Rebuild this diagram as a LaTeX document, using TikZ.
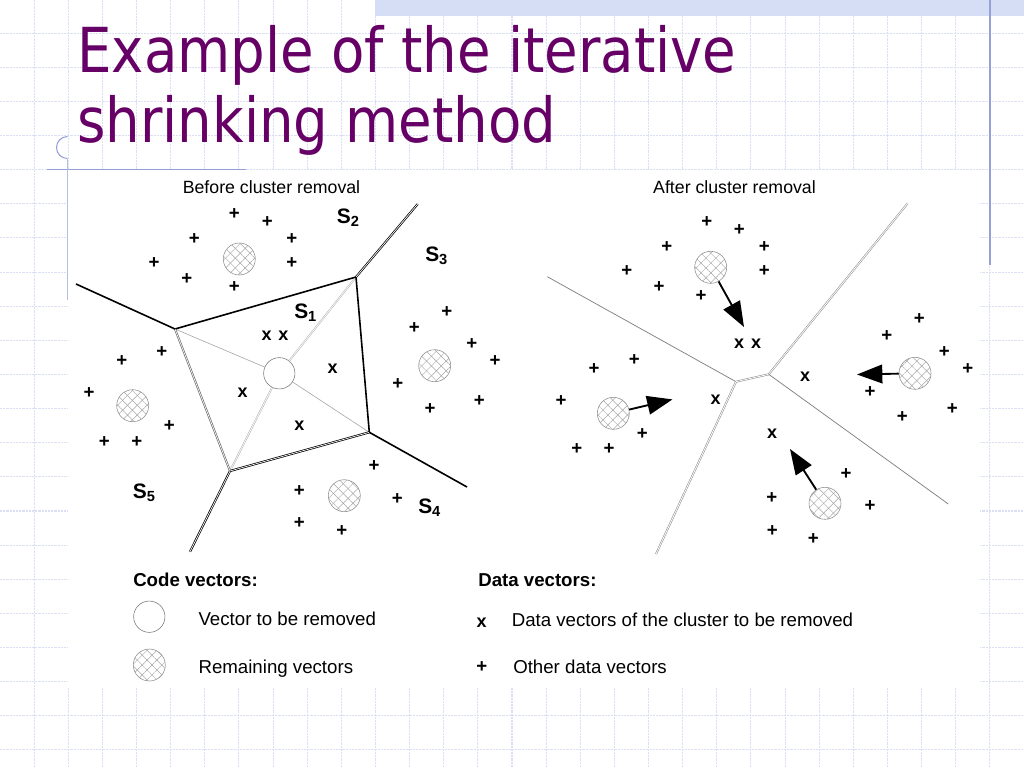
\documentclass[tikz,border=0pt]{standalone}
\usepackage{fontspec}
\setmainfont{Liberation Sans}
\newfontfamily\titlefont[FakeStretch=0.88]{DejaVu Sans}
\usetikzlibrary{patterns.meta,arrows.meta}
\definecolor{titlepurple}{RGB}{102,0,102}
\definecolor{gridblue}{RGB}{218,223,243}
\definecolor{rulerblue}{RGB}{150,160,215}
\definecolor{stripblue}{RGB}{214,222,246}
\newcommand\Slab[1]{S\raisebox{-2.2pt}{\fontsize{11}{11}\selectfont #1}}
\begin{document}
\begin{tikzpicture}[x=0.75pt,y=-0.75pt,
  gridline/.style={draw=gridblue, line width=0.8pt, dash pattern=on 1.6pt off 0.8pt},
  titlestyle/.style={anchor=base west, inner sep=0pt, text=titlepurple, font=\titlefont\fontsize{46.5}{50}\selectfont},
  captext/.style={anchor=base, inner sep=0pt, font=\fontsize{13.3}{15}\selectfont},
  legtext/.style={anchor=base west, inner sep=0pt, font=\fontsize{14}{16}\selectfont},
  leghead/.style={anchor=base west, inner sep=0pt, font=\bfseries\fontsize{14}{16}\selectfont},
  slabel/.style={anchor=base west, inner sep=0pt, font=\bfseries\fontsize{15.7}{18}\selectfont},
  plusmark/.style={inner sep=0pt, font=\bfseries\fontsize{14}{15}\selectfont},
  xmark/.style={inner sep=0pt, font=\bfseries\fontsize{13.5}{14}\selectfont},
  emptyc/.style={circle, minimum size=23.5pt, inner sep=0pt, draw=black!55, line width=0.4pt, fill=white},
  hatchc/.style={circle, minimum size=24pt, inner sep=0pt, draw=black!45, line width=0.4pt,
    pattern={Lines[angle=45,distance=5.2pt,line width=0.35pt]}, pattern color=black!35,
    postaction={pattern={Lines[angle=-45,distance=5.2pt,line width=0.35pt]}, pattern color=black!35}},
  heavy/.style={draw=black, line width=1.2pt},
  dblblack/.style={draw=black, double=white, line width=0.55pt, double distance=0.5pt},
  dblgray/.style={draw=black!60, double=white, line width=0.5pt, double distance=0.5pt},
  innerthin/.style={draw=black!35, line width=0.45pt},
  innerdbl/.style={draw=black!30, double=white, line width=0.4pt, double distance=0.5pt},
  thingray/.style={draw=black!50, line width=0.55pt},
  lightdbl/.style={draw=black!45, double=white, line width=0.4pt, double distance=0.6pt},
  bigarrow/.style={draw=black, line width=1.4pt, -{Triangle[length=19pt,width=14pt]}}
]
\useasboundingbox (0,0) rectangle (1024,768);
\fill[white] (0,0) rectangle (1024,768);
% background grid
\foreach \i in {1,...,29} \draw[gridline] ({\i*34.133},0) -- ({\i*34.133},768);
\foreach \i in {1,...,22} \draw[gridline] (0,{\i*34.133-1}) -- (1024,{\i*34.133-1});
% top strip and rulers
\fill[stripblue] (375,0) rectangle (1024,16);
\draw[rulerblue, line width=1.1pt] (990,0) -- (990,265);
\draw[rulerblue, line width=0.8pt] (47,169.5) -- (246,169.5);
\draw[rulerblue, line width=0.8pt] (67.5,158.5) arc[start angle=90, end angle=270, radius=11];
\draw[rulerblue!70, line width=0.8pt] (67.5,158.5) -- (67.5,300);
% white panel
\fill[white] (68,170) rectangle (980,688);
% title
\node[titlestyle] (t1) at (77,72) {Example of the iterative};
\node[titlestyle] (t2) at (77,142) {shrinking method};
% captions
\node[captext] (capL) at (271.5,193.3) {Before cluster removal};
\node[captext] (capR) at (734.5,193.3) {After cluster removal};

% ---------------- left diagram ----------------
\coordinate (ul) at (175,329);
\coordinate (ur) at (356,277);
\coordinate (lr) at (369.3,432.3);
\coordinate (bl) at (230,471);
\coordinate (oul) at (76,284);
\coordinate (our) at (417.7,204);
\coordinate (olr) at (467,487);
\coordinate (obl) at (190,551.7);
\node[emptyc] (rem) at (279.3,373.3) {};
\draw[innerthin] (rem) -- (ul);
\draw[innerdbl] (rem) -- (ur);
\draw[innerthin] (rem) -- (lr);
\draw[innerdbl] (rem) -- (bl);
\draw[heavy] (ul) -- (ur);
\draw[heavy] (ur) -- (lr);
\draw[dblblack] (lr) -- (bl);
\draw[dblgray] (bl) -- (ul);
\draw[heavy] (ul) -- (oul);
\draw[dblblack] (ur) -- (our);
\draw[heavy] (lr) -- (olr);
\draw[dblblack] (bl) -- (obl);
\node[hatchc] (hL2) at (239.3,259) {};
\node[hatchc] (hL3) at (434.7,365.7) {};
\node[hatchc] (hL5) at (132.7,405.7) {};
\node[hatchc] (hL4) at (344.3,495.7) {};
\foreach \px/\py [count=\i] in {234.3/214.3, 267.3/222, 194.3/239.3, 291.7/239.3, 154/263.3, 291.7/263.3, 186.7/279, 234.3/286.7, 446.7/311.7, 414.3/328.3, 471.7/344, 495/361, 397.7/384, 479.3/401, 430/408.7, 161.7/351.7, 121.7/361, 89/393.3, 169.3/425.7, 104.3/441.7, 136.7/441.7, 374/466, 299.3/491, 397.3/499, 299.3/523.3, 341.7/531}
  \node[plusmark] (pl\i) at (\px,\py) {+};
\foreach \px/\py [count=\i] in {266.7/335.7, 283.3/335.7, 332.7/368.3, 242.7/392.3, 299.3/425.7}
  \node[xmark] (xl\i) at (\px,\py) {x};
\node[slabel] (s1) at (294,318.3) {\Slab{1}};
\node[slabel] (s2) at (336.7,223.3) {\Slab{2}};
\node[slabel] (s3) at (425,261.7) {\Slab{3}};
\node[slabel] (s4) at (418,513.3) {\Slab{4}};
\node[slabel] (s5) at (132.7,498.3) {\Slab{5}};

% ---------------- right diagram ----------------
\coordinate (va) at (736,381.7);
\coordinate (vb) at (768.7,374.3);
\coordinate (ra) at (547.3,276.7);
\coordinate (rb) at (656,554);
\coordinate (rc) at (907.7,203.3);
\coordinate (rd) at (948.3,504);
\draw[thingray] (va) -- (ra);
\draw[lightdbl] (va) -- (rb);
\draw[lightdbl] (va) -- (vb);
\draw[lightdbl] (vb) -- (rc);
\draw[thingray] (vb) -- (rd);
\node[hatchc] (hRt) at (710.7,267.3) {};
\node[hatchc] (hRr) at (915,373.3) {};
\node[hatchc] (hRl) at (613.3,413.3) {};
\node[hatchc] (hRb) at (825,503.3) {};
\coordinate (tipT) at (744,327);
\coordinate (tipR) at (857,374.5);
\coordinate (tipL) at (672.5,399.4);
\coordinate (tipB) at (790,449);
\draw[bigarrow] (hRt) -- (tipT);
\draw[bigarrow] (hRr) -- (tipR);
\draw[bigarrow] (hRl) -- (tipL);
\draw[bigarrow] (hRb) -- (tipB);
\foreach \px/\py [count=\i] in {706.7/222.3, 739.3/230, 666.7/246.7, 764.3/246.7, 626.7/271, 764.3/271, 659/286.7, 701/296, 919.3/319.3, 886.7/336, 944.3/351.7, 967.7/369, 870/391.7, 952.3/409, 902.3/416.7, 634.3/360, 594/369, 561/401, 642.3/434, 576.7/449.3, 609/449.3, 846/474, 771.7/498.3, 870/506, 772.3/531, 813.3/539}
  \node[plusmark] (pr\i) at (\px,\py) {+};
\foreach \px/\py [count=\i] in {739/343.3, 756/343.3, 805/376.7, 715.7/400, 772/433.3}
  \node[xmark] (xr\i) at (\px,\py) {x};

% ---------------- legend ----------------
\node[leghead] (codeh) at (133,586) {Code vectors:};
\node[leghead] (datah) at (478,586) {Data vectors:};
\node[emptyc] (legE) at (149.3,616.7) {};
\node[hatchc] (legH) at (149.3,665) {};
\node[legtext] (legEt) at (198.3,625.7) {Vector to be removed};
\node[legtext] (legHt) at (198.3,673.3) {Remaining vectors};
\node[xmark, anchor=base] (legX) at (481.7,627) {x};
\node[plusmark] (legP) at (481.7,667.5) {+};
\node[legtext] (legXt) at (511.5,626.5) {Data vectors of the cluster to be removed};
\node[legtext] (legPt) at (513,673.3) {Other data vectors};
\end{tikzpicture}
\end{document}
